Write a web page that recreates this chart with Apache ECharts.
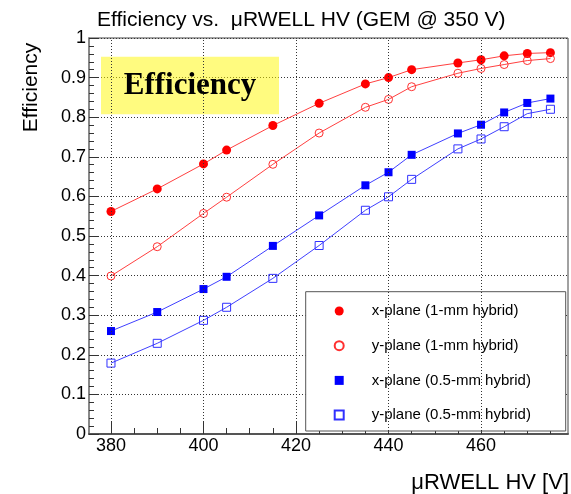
<!DOCTYPE html>
<html>
<head>
<meta charset="utf-8">
<script src="https://cdn.jsdelivr.net/npm/echarts@6/dist/echarts.min.js"></script>
<style>html,body{margin:0;padding:0;background:#fff;}#c{width:571px;height:494px;}</style>
</head>
<body>
<div id="c"></div>
<script>
const hv = [380, 390, 400, 405, 415, 425, 435, 440, 445, 455, 460, 465, 470, 475];
const xPlane1mm = [0.562, 0.619, 0.682, 0.717, 0.779, 0.835, 0.884, 0.900, 0.920, 0.937, 0.945, 0.955, 0.961, 0.963];
const yPlane1mm = [0.399, 0.473, 0.557, 0.598, 0.681, 0.760, 0.825, 0.845, 0.877, 0.911, 0.923, 0.933, 0.943, 0.948];
const xPlane05mm = [0.260, 0.308, 0.366, 0.397, 0.475, 0.552, 0.628, 0.661, 0.705, 0.759, 0.781, 0.812, 0.836, 0.847];
const yPlane05mm = [0.179, 0.229, 0.287, 0.320, 0.393, 0.476, 0.565, 0.599, 0.643, 0.720, 0.745, 0.776, 0.809, 0.820];
const seriesNames = ['x-plane (1-mm hybrid)', 'y-plane (1-mm hybrid)', 'x-plane (0.5-mm hybrid)', 'y-plane (0.5-mm hybrid)'];
const xMajorTicks = [380, 400, 420, 440, 460];
const xMinorTicks = [380, 385, 390, 395, 400, 405, 410, 415, 420, 425, 430, 435, 440, 445, 450, 455, 460, 465, 470, 475];
const titleText = 'Efficiency vs.  \u03BCRWELL HV (GEM @ 350 V)';
const xTitle = '\u03BCRWELL HV [V]';
const yTitle = 'Efficiency';
const boxLabel = 'Efficiency';

const pairs = v => hv.map((x, i) => [x, v[i]]);
const FONT = 'Liberation Sans, Arial, Helvetica, sans-serif';
const XMIN = 375.25, XMAX = 478.8;

const chart = echarts.init(document.getElementById('c'), null, {renderer: 'canvas'});
chart.setOption({
  animation: false,
  backgroundColor: '#fff',
  title: {
    text: titleText, left: 97, top: 10, padding: 0,
    textStyle: {fontFamily: FONT, fontSize: 21, fontWeight: 'normal', color: '#000'}
  },
  grid: {left: 89, top: 38, right: 3, bottom: 60, show: true, borderColor: '#444', borderWidth: 1, backgroundColor: 'transparent'},
  xAxis: [{
    type: 'value', min: XMIN, max: XMAX, position: 'bottom',
    axisLine: {show: true, onZero: false, lineStyle: {color: '#555', width: 2}},
    axisTick: {show: true, inside: true, length: 12, customValues: xMajorTicks, lineStyle: {color: '#333', width: 1}},
    axisLabel: {fontFamily: FONT, fontSize: 18, color: '#000', margin: 3, customValues: xMajorTicks},
    splitLine: {show: false}
  }, {
    type: 'value', min: XMIN, max: XMAX, position: 'bottom', offset: 0,
    axisLine: {show: false, onZero: false},
    axisTick: {show: true, inside: true, length: 6, customValues: xMinorTicks, lineStyle: {color: '#333', width: 1}},
    axisLabel: {show: false},
    splitLine: {show: false}
  }],
  yAxis: {
    type: 'value', min: 0, max: 1, interval: 0.1,
    axisLine: {show: true, onZero: false, lineStyle: {color: '#888', width: 2}},
    axisTick: {show: true, inside: true, length: 10, lineStyle: {color: '#333', width: 1}},
    minorTick: {show: true, splitNumber: 5, length: 5, lineStyle: {color: '#333', width: 1}},
    axisLabel: {fontFamily: FONT, fontSize: 18, color: '#000', margin: 3},
    splitLine: {show: true, lineStyle: {color: '#333', type: [1, 2], width: 1}}
  },
  legend: {
    orient: 'vertical', left: 305.7, top: 292, padding: [10, 30, 10, 28],
    itemWidth: 9, itemHeight: 9, itemGap: 16.7,
    textStyle: {fontFamily: FONT, fontSize: 15, color: '#000', lineHeight: 18, padding: [0, 0, 0, 23]},
    data: [
      {name: seriesNames[0], icon: 'circle'},
      {name: seriesNames[1], icon: 'circle'},
      {name: seriesNames[2], icon: 'rect'},
      {name: seriesNames[3], icon: 'rect'}
    ],
    z: 5
  },
  graphic: [
    {type: 'rect', z: 3, shape: {x: 305.7, y: 291.7, width: 260, height: 139.3},
     style: {fill: '#fff', stroke: '#555', lineWidth: 1}},
    {type: 'rect', z: 3, shape: {x: 101, y: 56.7, width: 178, height: 57.6},
     style: {fill: 'rgba(255,248,0,0.5)'}},
    {type: 'text', z: 4, x: 190, y: 86,
     style: {text: boxLabel, align: 'center', verticalAlign: 'middle', font: 'bold 31px "Liberation Serif", "Times New Roman", serif', fill: '#000'}},
    {type: 'text', x: 31, y: 87.5, rotation: Math.PI / 2,
     style: {text: yTitle, align: 'center', verticalAlign: 'middle', font: '21px ' + FONT, fill: '#000'}},
    {type: 'text', x: 569, y: 483,
     style: {text: xTitle, align: 'right', verticalAlign: 'middle', font: '22px ' + FONT, fill: '#000'}}
  ],
  series: [
    {name: 'xgrid', type: 'line', data: [], silent: true, z: 1,
     markLine: {silent: true, symbol: 'none', label: {show: false}, animation: false,
       lineStyle: {color: '#333', type: [1, 2], width: 1},
       data: xMajorTicks.map(v => ({xAxis: v}))}},
    {name: seriesNames[0], type: 'line', data: pairs(xPlane1mm), symbol: 'circle', symbolSize: 9,
     lineStyle: {color: '#ff4040', width: 1}, itemStyle: {color: '#ff0000', borderWidth: 0}},
    {name: seriesNames[1], type: 'line', data: pairs(yPlane1mm), symbol: 'circle', symbolSize: 8,
     lineStyle: {color: '#ff4040', width: 1}, itemStyle: {color: 'rgba(255,255,255,0)', borderColor: '#ff3030', borderWidth: 1}},
    {name: seriesNames[2], type: 'line', data: pairs(xPlane05mm), symbol: 'rect', symbolSize: 8,
     lineStyle: {color: '#4040ff', width: 1}, itemStyle: {color: '#0000ff', borderWidth: 0}},
    {name: seriesNames[3], type: 'line', data: pairs(yPlane05mm), symbol: 'rect', symbolSize: 8,
     lineStyle: {color: '#4040ff', width: 1}, itemStyle: {color: 'rgba(255,255,255,0)', borderColor: '#3030ff', borderWidth: 1}}
  ]
});
</script>
</body>
</html>
